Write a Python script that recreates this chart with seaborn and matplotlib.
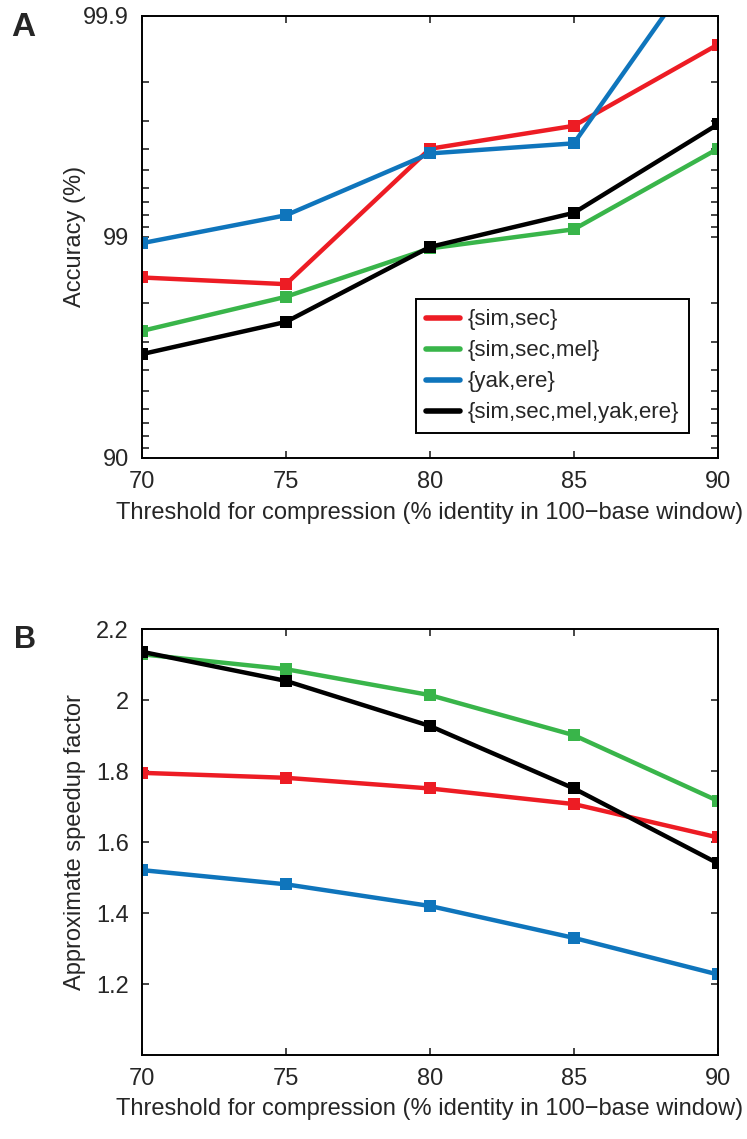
import numpy as np
import pandas as pd
import seaborn as sns
import matplotlib.pyplot as plt
from matplotlib.lines import Line2D

# threshold (% identity in 100-base window)
thresholds = [70, 75, 80, 85, 90]
series_names = ['{sim,sec}', '{sim,sec,mel}', '{yak,ere}', '{sim,sec,mel,yak,ere}']
colors = ['#ED1C24', '#39B54A', '#0F75BC', '#000000']

# panel A: accuracy (%)
acc_simsec = [98.47, 98.36, 99.60, 99.685, 99.865]
acc_simsecmel = [97.33, 98.13, 98.87, 99.074, 99.60]
acc_yakere = [98.93, 99.20, 99.58, 99.622, 99.955]
acc_all = [96.60, 97.57, 98.887, 99.22, 99.69]

# panel B: approximate speedup factor
speed_simsec = [1.795, 1.781, 1.751, 1.707, 1.613]
speed_simsecmel = [2.129, 2.087, 2.014, 1.901, 1.716]
speed_yakere = [1.521, 1.481, 1.420, 1.330, 1.227]
speed_all = [2.136, 2.054, 1.927, 1.751, 1.540]

acc_tick_vals = [90, 99, 99.9]
acc_tick_labels = ['90', '99', '99.9']
speed_ticks = [1.2, 1.4, 1.6, 1.8, 2.0, 2.2]
speed_tick_labels = ['1.2', '1.4', '1.6', '1.8', '2', '2.2']


def make_df(vals_list, col):
    rows = []
    for name, vals in zip(series_names, vals_list):
        for t, v in zip(thresholds, vals):
            rows.append({'threshold': t, col: v, 'set': name})
    return pd.DataFrame(rows)


df_acc = make_df([acc_simsec, acc_simsecmel, acc_yakere, acc_all], 'accuracy')
df_speed = make_df([speed_simsec, speed_simsecmel, speed_yakere, speed_all], 'speedup')

sns.set_style('ticks')
plt.rcParams['font.family'] = ['Liberation Sans', 'DejaVu Sans']
plt.rcParams['axes.linewidth'] = 1.4

fig = plt.figure(figsize=(7.47, 11.39), dpi=100)
ax1 = fig.add_axes([0.190, 0.5982, 0.771, 0.388])
ax2 = fig.add_axes([0.190, 0.0737, 0.771, 0.374])
pal = dict(zip(series_names, colors))

# accuracy on a -log10(error) scale
def fwd(a):
    with np.errstate(divide='ignore', invalid='ignore'):
        return -np.log10(100.0 - np.asarray(a, dtype=float))

def inv(t):
    return 100.0 - 10.0 ** (-np.asarray(t, dtype=float))

ax1.set_yscale('function', functions=(fwd, inv))

line_kw = dict(marker='s', markersize=8.5, markeredgewidth=0, linewidth=3.2, legend=False)
sns.lineplot(data=df_acc, x='threshold', y='accuracy', hue='set', palette=pal,
             hue_order=series_names, ax=ax1, **line_kw)
sns.lineplot(data=df_speed, x='threshold', y='speedup', hue='set', palette=pal,
             hue_order=series_names, ax=ax2, **line_kw)

ax1.set_ylim(90, 99.9)
ax1.set_yticks(acc_tick_vals)
ax1.set_yticklabels(acc_tick_labels)
minor = [100 - e for e in range(2, 10)] + [100 - e / 10 for e in range(2, 10)]
ax1.set_yticks(minor, minor=True)
ax1.set_ylabel('Accuracy (%)', fontsize=17)

ax2.set_ylim(1.0, 2.2)
ax2.set_yticks(speed_ticks)
ax2.set_yticklabels(speed_tick_labels)
ax2.set_ylabel('Approximate speedup factor', fontsize=17)

for ax in (ax1, ax2):
    ax.set_xlim(70, 90)
    ax.set_xticks(thresholds)
    ax.set_xticklabels([str(t) for t in thresholds])
    ax.set_xlabel('Threshold for compression (% identity in 100\u2212base window)', fontsize=17)
    ax.tick_params(which='both', direction='in', top=True, right=True,
                   length=5, width=1.2, labelsize=17, pad=9.5)
    ax.yaxis.set_label_coords(-0.097, 0.5)
    ax.xaxis.set_label_coords(0.5, -0.10)
    for s in ax.spines.values():
        s.set_visible(True)
        s.set_color('black')

handles = [Line2D([], [], color=c, linewidth=4) for c in colors]
leg = ax1.legend(handles, series_names, loc='lower right', bbox_to_anchor=(0.95, 0.055),
                 fontsize=16, frameon=True, fancybox=False, edgecolor='black',
                 framealpha=1, handlelength=1.5, handletextpad=0.35, labelspacing=0.45,
                 borderpad=0.45, borderaxespad=0)
leg.get_frame().set_linewidth(1.4)

fig.text(0.015, 0.9895, 'A', fontsize=24, fontweight='bold', va='top', ha='left')
fig.text(0.019, 0.4513, 'B', fontsize=22, fontweight='bold', va='top', ha='left')

fig.savefig('out.png', dpi=100, facecolor='white')
